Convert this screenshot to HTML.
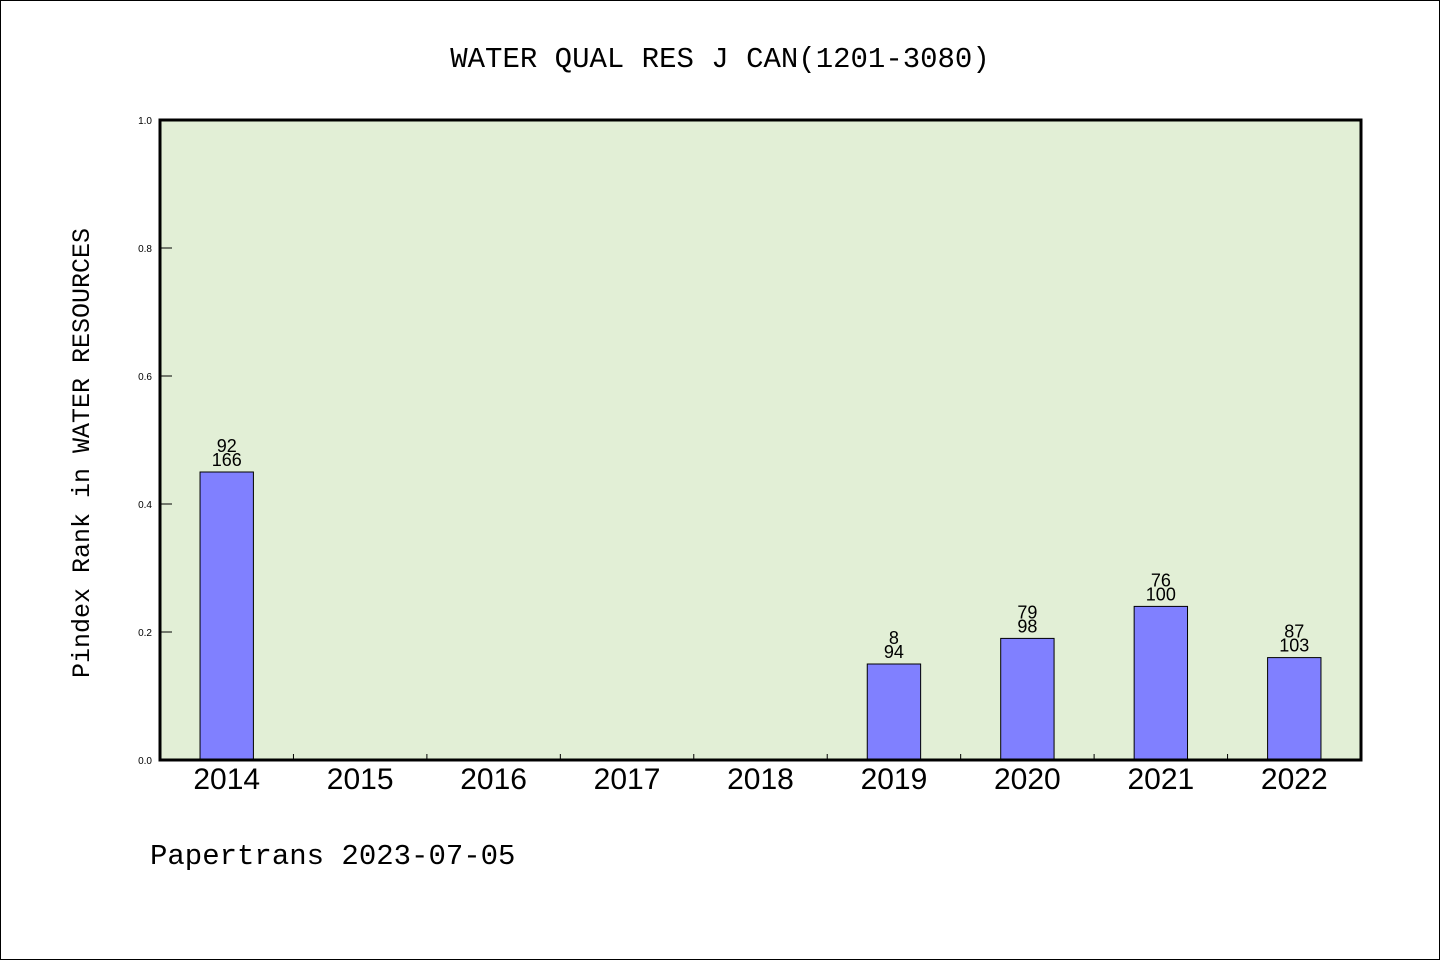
<!DOCTYPE html>
<html><head><meta charset="utf-8"><style>
body{margin:0;background:#fff}
svg{display:block}
</style></head><body>
<svg id="chart" width="1440" height="960" xmlns="http://www.w3.org/2000/svg">
<rect x="0.5" y="0.5" width="1439" height="959" fill="#fff" stroke="#000"/>
<text x="720" y="67" text-anchor="middle" font-family="Liberation Mono, monospace" font-size="29">WATER QUAL RES J CAN(1201-3080)</text>
<rect x="160" y="120" width="1201" height="640" fill="#e2efd6"/>
<g id="marks"></g>
<rect x="160" y="120" width="1201" height="640" fill="none" stroke="#000" stroke-width="3"/>
<text transform="translate(89,453) rotate(-90)" text-anchor="middle" font-family="Liberation Mono, monospace" font-size="25">Pindex Rank in WATER RESOURCES</text>
<text x="150" y="864" font-family="Liberation Mono, monospace" font-size="29">Papertrans 2023-07-05</text>
</svg>
<script>
const categories=["2014","2015","2016","2017","2018","2019","2020","2021","2022"];
const values=[0.45,0,0,0,0,0.15,0.19,0.24,0.16];
const topLabels=["92","","","","","8","79","76","87"];
const bottomLabels=["166","","","","","94","98","100","103"];
const yTicks=[0,0.2,0.4,0.6,0.8,1.0];
const yTickLabels=["0.0","0.2","0.4","0.6","0.8","1.0"];
const X0=160,X1=1361,Y0=760,Y1=120;
const band=(X1-X0)/categories.length;
const xc=i=>X0+band*(i+0.5);
const y=v=>Y0-(v/1)*(Y0-Y1);
const NS="http://www.w3.org/2000/svg";
const g=document.getElementById('marks');
function mk(t,a){const e=document.createElementNS(NS,t);for(const k in a)e.setAttribute(k,a[k]);g.appendChild(e);return e;}
yTicks.forEach((v,i)=>{
 const l=mk('line',{x1:X0,x2:X0+12,y1:y(v),y2:y(v),stroke:'#000','stroke-width':1});
 
 
 const t=mk('text',{x:X0-8,y:y(v)+4,'text-anchor':'end','font-family':'Liberation Sans, sans-serif','font-size':10});
 t.textContent=yTickLabels[i];
 
 
});
categories.forEach((c,i)=>{
 if(i>0){const l=mk('line',{x1:X0+band*i,x2:X0+band*i,y1:Y0,y2:Y0-6,stroke:'#000','stroke-width':1});
 
 }
 const t=mk('text',{x:xc(i),y:789,'text-anchor':'middle','font-family':'Liberation Sans, sans-serif','font-size':30});
 t.textContent=c;
 
 
 if(values[i]>0){
  const w=band*0.4;
  const r=mk('rect',{x:xc(i)-w/2,y:y(values[i]),width:w,height:Y0-y(values[i]),fill:'#8080ff',stroke:'#000','stroke-width':1});
  
  
  const a=mk('text',{x:xc(i),y:y(values[i])-6,'text-anchor':'middle','font-family':'Liberation Sans, sans-serif','font-size':18});
  a.textContent=bottomLabels[i];
  
  
  const b=mk('text',{x:xc(i),y:y(values[i])-20,'text-anchor':'middle','font-family':'Liberation Sans, sans-serif','font-size':18});
  b.textContent=topLabels[i];
  
  
 }
});
</script>
</body></html>
